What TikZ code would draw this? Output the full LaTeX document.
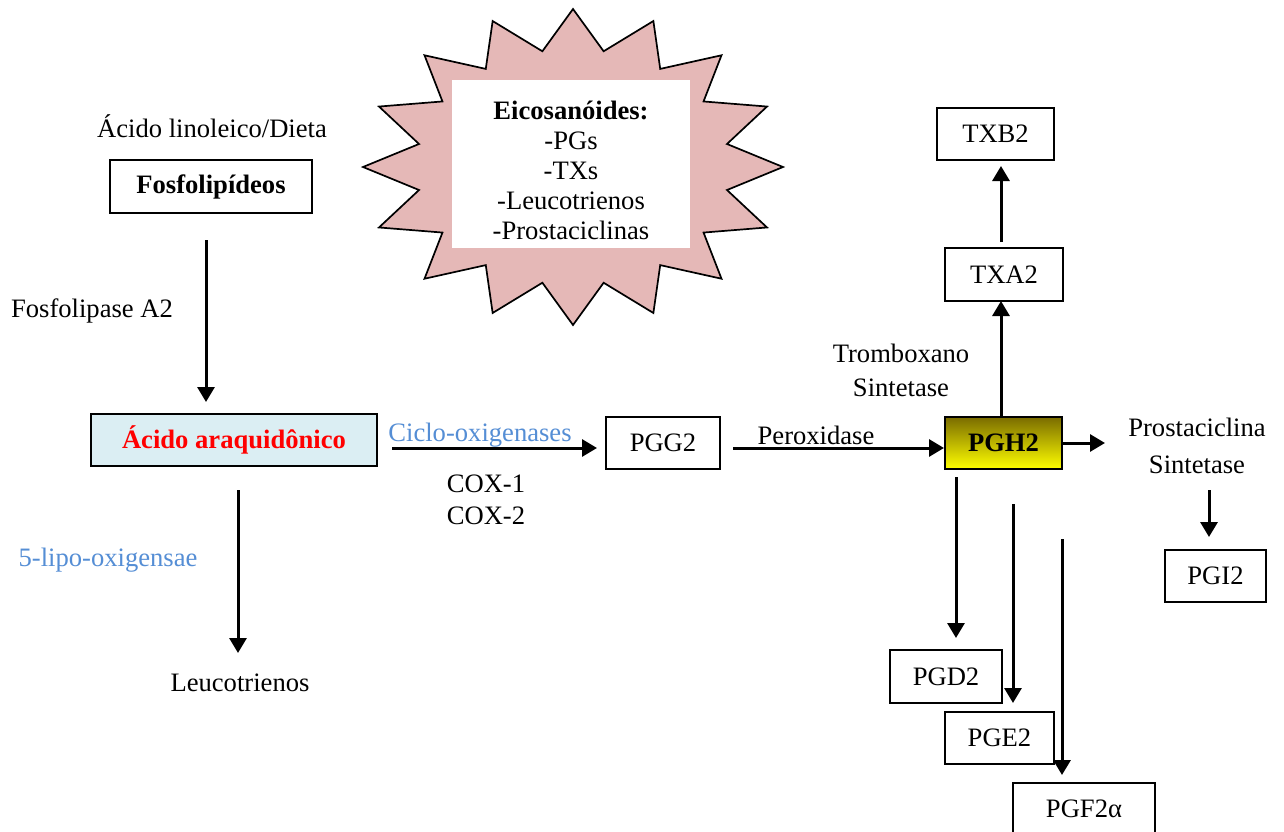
\documentclass[tikz,border=0pt]{standalone}
\usepackage{fontspec}
\setmainfont{Liberation Serif}
\usetikzlibrary{arrows.meta}
\definecolor{starfill}{RGB}{229,184,183}
\definecolor{aafill}{RGB}{219,238,243}
\definecolor{enzblue}{RGB}{85,142,213}
\definecolor{olivetop}{RGB}{122,108,0}
\definecolor{yellowbot}{RGB}{255,255,0}
\begin{document}
\begin{tikzpicture}[x=0.5pt,y=-0.5pt,
  font=\fontsize{13.3}{15}\selectfont,
  box/.style={draw, line width=0.75pt, inner sep=0pt, minimum height=26pt},
  lbl/.style={inner sep=0pt, align=center},
  arr/.style={line width=1.5pt, -{Triangle[length=7.5pt,width=8.5pt]}}]
\clip (0,0) rectangle (1284,831);
\fill[white] (0,0) rectangle (1284,831);

% star
\filldraw[fill=starfill, draw=black, line width=0.85pt]
  ({573+210*cos(90)},{167-158*sin(90)})
  \foreach \i in {0,...,15} {
    -- ({573+157*cos(101.25+22.5*\i)},{167-118*sin(101.25+22.5*\i)})
    -- ({573+210*cos(112.5+22.5*\i)},{167-158*sin(112.5+22.5*\i)})
  } -- cycle;
\node[fill=white, inner sep=0pt, minimum width=119pt, minimum height=84pt] (eicbox) at (571,164) {};
\node[lbl, font=\fontsize{13.3}{15}\selectfont] (eic) at (571,170)
  {\textbf{Eicosanóides:}\\-PGs\\-TXs\\-Leucotrienos\\-Prostaciclinas};

% left column
\node[lbl] (dieta) at (212,126) {Ácido linoleico/Dieta};
\node[box, minimum width=101pt, minimum height=26.5pt] (fosfo) at (211,186.5) {\textbf{Fosfolipídeos}};
\node[lbl] (fla2) at (92,311) {Fosfolipase A2};
\node[box, fill=aafill, minimum width=143pt] (aa) at (234,440) {\textcolor{red}{\textbf{Ácido araquidônico}}};
\node[lbl, text=enzblue] (lipo) at (108,560) {5-lipo-oxigensae};
\node[lbl] (leuco) at (240,683) {Leucotrienos};

% middle
\node[lbl, text=enzblue] (ciclo) at (480,435) {Ciclo-oxigenases};
\node[lbl, font=\fontsize{13.3}{16}\selectfont] (cox) at (486,500) {COX-1\\COX-2};
\node[box, minimum width=57pt] (pgg) at (663,443) {PGG2};
\node[lbl] (perox) at (816,435) {Peroxidase};

% PGH2
\node[box, top color=olivetop, bottom color=yellowbot, minimum width=58.5pt] (pgh) at (1003.5,443) {\textbf{PGH2}};
\node[lbl, font=\fontsize{13.3}{17}\selectfont] (trombo) at (901,370) {Tromboxano\\Sintetase};
\node[box, minimum width=59pt, minimum height=26.5pt] (txa) at (1004,274.5) {TXA2};
\node[box, minimum width=58.5pt] (txb) at (995.5,134) {TXB2};
\node[lbl, font=\fontsize{13.3}{18.5}\selectfont] (prosta) at (1197,446) {Prostaciclina\\Sintetase};
\node[box, minimum width=50.5pt] (pgi) at (1215.5,576) {PGI2};
\node[box, minimum width=56pt, minimum height=26.5pt] (pgd) at (946,676.5) {PGD2};
\node[box, minimum width=54.5pt] (pge) at (999.5,738) {PGE2};
\node[box, minimum width=71pt] (pgf) at (1084,809) {PGF2α};

% connector end points
\coordinate (c1s) at (206,240);   \coordinate (c1e) at (206,402);
\coordinate (c2s) at (238,490);   \coordinate (c2e) at (238,653);
\coordinate (c3s) at (392,448);   \coordinate (c3e) at (597,448);
\coordinate (c4s) at (733,448);   \coordinate (c4e) at (944,448);
\coordinate (c5e) at (1105,443);
\coordinate (c6s) at (1209,490);  \coordinate (c6e) at (1209,537);
\coordinate (c7s) at (1001,417);  \coordinate (c7e) at (1001,301);
\coordinate (c8s) at (1001,242);  \coordinate (c8e) at (1001,166);
\coordinate (d1s) at (956,477);   \coordinate (d1e) at (956,638);
\coordinate (d2s) at (1013,504);  \coordinate (d2e) at (1013,703);
\coordinate (d3s) at (1062,539);  \coordinate (d3e) at (1062,775);

\draw[arr] (c1s) -- (c1e);
\draw[arr] (c2s) -- (c2e);
\draw[arr] (c3s) -- (c3e);
\draw[arr] (c4s) -- (c4e);
\draw[arr] (pgh.east) -- (c5e);
\draw[arr] (c6s) -- (c6e);
\draw[arr] (c7s) -- (c7e);
\draw[arr] (c8s) -- (c8e);
\draw[arr] (d1s) -- (d1e);
\draw[arr] (d2s) -- (d2e);
\draw[arr] (d3s) -- (d3e);
\end{tikzpicture}
\end{document}
